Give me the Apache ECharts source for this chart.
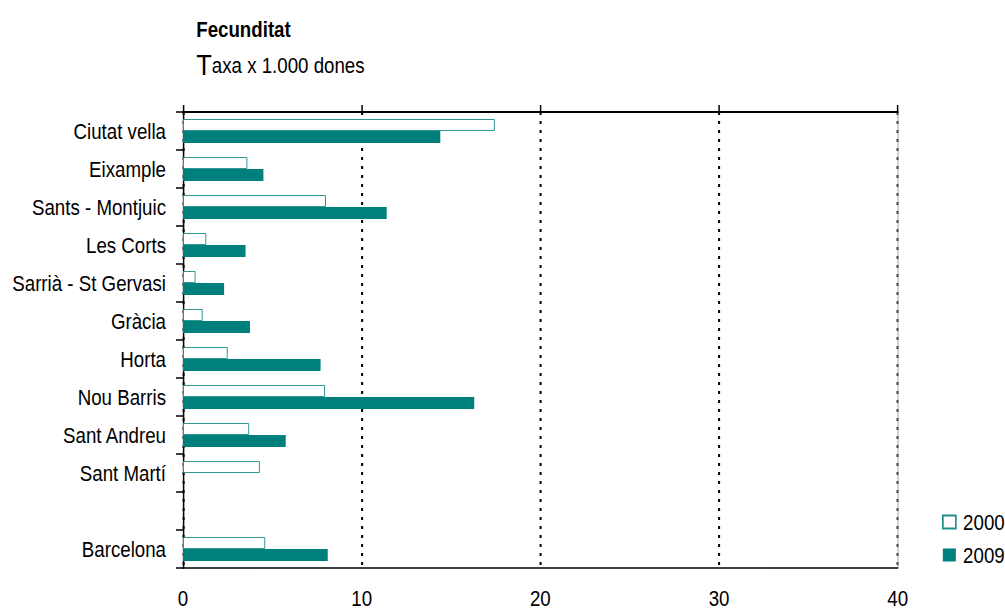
<!DOCTYPE html>
<html><head><meta charset="utf-8">
<script src="https://cdn.jsdelivr.net/npm/echarts@6/dist/echarts.min.js"></script>
<style>
html,body{margin:0;padding:0;background:#fff;overflow:hidden;width:1005px;height:610px}
#c{width:1182.35px;height:610px;transform:scaleX(0.85);transform-origin:0 0}
</style>
</head><body><div id="c"></div>
<script>
const categories = ['Ciutat vella','Eixample','Sants - Montjuic','Les Corts','Sarrià - St Gervasi','Gràcia','Horta','Nou Barris','Sant Andreu','Sant Martí','','Barcelona'];
const values2000 = [17.45, 3.6, 8.0, 1.3, 0.7, 1.1, 2.5, 7.95, 3.7, 4.3, null, 4.6];
const values2009 = [14.4, 4.5, 11.4, 3.5, 2.3, 3.75, 7.7, 16.3, 5.75, null, null, 8.1];
const xTicks = [0, 10, 20, 30, 40];
const seriesNames = ['2000', '2009'];

// Horizontal condensing (narrow-font look): chart drawn wider, then scaled by S.
const S = 0.85;
const px = v => v / S;
const FONT = '"Liberation Sans", Arial, sans-serif';
const chart = echarts.init(document.getElementById('c'), null, {renderer: 'svg'});
chart.setOption({
  animation: false,
  textStyle: {fontFamily: FONT},
  title: [
    {text: 'Fecunditat', left: px(192), top: 13, textStyle: {fontFamily: FONT, fontWeight: 'bold', fontSize: 22, color: '#000'}},
    {text: '{big|T}{n|axa x 1.000 dones}', left: px(192), top: 45,
     textStyle: {fontWeight: 'normal', rich: {
       big: {fontFamily: FONT, fontSize: 30, fontWeight: 'normal', color: '#000'},
       n: {fontFamily: FONT, fontSize: 22, fontWeight: 'normal', color: '#000'}
     }}}
  ],
  legend: {
    orient: 'vertical', left: px(942), top: 511, padding: 0, itemWidth: px(13), itemHeight: 13, itemGap: 11,
    icon: 'rect',
    textStyle: {fontFamily: FONT, fontSize: 22, color: '#000', padding: [0,0,0,px(3)]},
    data: seriesNames
  },
  grid: {left: px(183), right: px(107), top: 112, bottom: 42, containLabel: false, outerBoundsMode: 'none'},
  xAxis: [
    {type: 'value', position: 'bottom', min: xTicks[0], max: xTicks[xTicks.length-1], interval: 10,
     axisLine: {show: true, lineStyle: {color: '#000', width: 1.5}},
     axisTick: {show: false},
     axisLabel: {margin: 19, fontFamily: FONT, fontSize: 22, color: '#000'},
     splitLine: {show: true, lineStyle: {color: '#000', width: px(2), type: [3, 6]}}},
    {type: 'value', position: 'top', min: xTicks[0], max: xTicks[xTicks.length-1], interval: 10,
     axisLine: {show: true, onZero: false, lineStyle: {color: '#000', width: 2}},
     axisTick: {show: true, inside: false, length: 7, lineStyle: {color: '#000', width: px(1.5)}},
     axisLabel: {show: false},
     splitLine: {show: false}}
  ],
  yAxis: [
    {type: 'category', data: categories, inverse: true,
     axisLine: {show: true, onZero: false, lineStyle: {color: '#000', width: px(1.5)}},
     axisTick: {show: true, length: px(7), lineStyle: {color: '#000', width: 1.5}},
     axisLabel: {margin: px(17), fontFamily: FONT, fontSize: 22, color: '#000'}},
    {type: 'category', data: categories, inverse: true, position: 'right',
     axisLine: {show: true, onZero: false, lineStyle: {color: '#aaa', width: px(1)}},
     axisTick: {show: false}, axisLabel: {show: false}}
  ],
  series: [
    {name: seriesNames[0], type: 'bar', data: values2000, barWidth: 12, barGap: '0%',
     itemStyle: {color: '#fff', borderColor: '#1f8f8c', borderWidth: 1}},
    {name: seriesNames[1], type: 'bar', data: values2009, barWidth: 12, barGap: '0%',
     itemStyle: {color: '#00807d'}}
  ]
});
</script></body></html>
